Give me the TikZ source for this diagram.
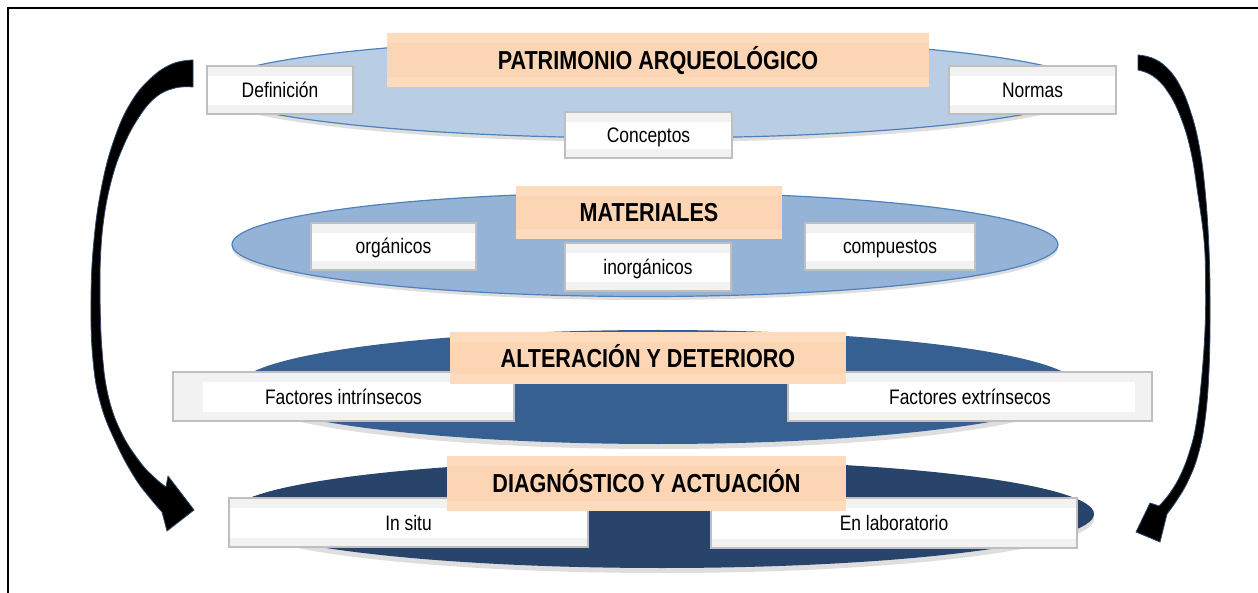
\documentclass[tikz,border=0pt]{standalone}
\usepackage{fontspec}
\setmainfont{Liberation Sans}[FakeStretch=0.83]
\usetikzlibrary{shapes.geometric}
\definecolor{peach}{HTML}{FCD5B4}
\definecolor{peachband}{HTML}{FDDBBC}
\definecolor{lvla}{HTML}{B9CDE5}
\definecolor{lvlb}{HTML}{95B3D7}
\definecolor{lvlc}{HTML}{376092}
\definecolor{lvld}{HTML}{29446A}
\definecolor{edgeblue}{HTML}{4F81BD}
\definecolor{boxgray}{HTML}{F2F2F2}
\definecolor{boxline}{HTML}{BFBFBF}
\begin{document}
\begin{tikzpicture}[x=1pt,y=-1pt,
  lvl/.style={ellipse, inner sep=0pt},
  shadowell/.style={ellipse, inner sep=0pt, fill=black, opacity=0.13, draw=none},
  titlebox/.style={rectangle, inner sep=0pt, fill=peach,
    font=\fontsize{26}{30}\selectfont\bfseries, text height=18.7pt, text depth=0pt,
    path picture={\fill[peachband] (path picture bounding box.north west) rectangle ([yshift=-10pt]path picture bounding box.north east);
                  \fill[peachband] ([yshift=10pt]path picture bounding box.south west) rectangle (path picture bounding box.south east);}},
  lbox/.style={rectangle, inner sep=0pt, fill=boxgray, draw=boxline, line width=1.5pt,
    font=\fontsize{21}{25}\selectfont, text height=15pt, text depth=0pt},
  band/.style 2 args={path picture={\fill[white] ([xshift=#1,yshift=-10pt]path picture bounding box.north west) rectangle ([xshift=-#2,yshift=9pt]path picture bounding box.south east);}},
  arrowfill/.style={fill=black, draw=edgeblue!55!black, line width=0.8pt, line join=round}
]
\useasboundingbox (0,0) rectangle (1258,593);
\fill[white] (0,0) rectangle (1258,593);
\draw[line width=2.5pt] (8,593) -- (8,8) -- (1258,8);

% ---- level 4 ----
\node[shadowell, minimum width=864pt, minimum height=108pt] (e4s) at (662,519) {};
\node[lvl, fill=lvld, minimum width=864pt, minimum height=108pt] (e4) at (662,514) {};
% ---- level 3 ----
\node[shadowell, minimum width=840pt, minimum height=114pt] (e3s) at (658,392) {};
\node[lvl, fill=lvlc, minimum width=840pt, minimum height=114pt] (e3) at (658,387) {};
% ---- level 2 ----
\node[shadowell, minimum width=826pt, minimum height=104pt] (e2s) at (645,248) {};
\node[lvl, fill=lvlb, draw=edgeblue, line width=1.2pt, minimum width=826pt, minimum height=104pt] (e2) at (645,244.5) {};
% ---- level 1 ----
\node[shadowell, minimum width=880pt, minimum height=100pt] (e1s) at (650,92) {};
\node[lvl, fill=lvla, draw=edgeblue, line width=1.2pt, minimum width=880pt, minimum height=100pt] (e1) at (650,88) {};

% ---- label boxes ----
\node[lbox, band={0pt}{0pt}, minimum width=146pt, minimum height=48pt] (def) at (280,90) {Definición};
\node[lbox, band={0pt}{0pt}, minimum width=167pt, minimum height=48pt] (nor) at (1032.5,90) {Normas};
\node[lbox, band={0pt}{0pt}, minimum width=167pt, minimum height=46pt] (con) at (648.5,135) {Conceptos};

\node[lbox, band={0pt}{0pt}, minimum width=165pt, minimum height=47pt] (org) at (393.5,246.5) {orgánicos};
\node[lbox, band={0pt}{0pt}, minimum width=166pt, minimum height=48pt] (inorg) at (648,267) {inorgánicos};
\node[lbox, band={0pt}{0pt}, minimum width=170pt, minimum height=47pt] (comp) at (890,246.5) {compuestos};

\node[lbox, band={30pt}{0pt}, minimum width=341pt, minimum height=49pt] (fint) at (343.5,396.5) {Factores intrínsecos};
\node[lbox, band={0pt}{17pt}, minimum width=364pt, minimum height=49pt] (fext) at (970,396.5) {Factores extrínsecos};

\node[lbox, band={0pt}{0pt}, minimum width=359pt, minimum height=49pt] (situ) at (408.5,522.5) {In situ};
\node[lbox, band={0pt}{0pt}, minimum width=366pt, minimum height=50pt] (lab) at (894,523) {En laboratorio};

% ---- title boxes ----
\node[titlebox, minimum width=542pt, minimum height=54pt] (t1) at (658,60) {PATRIMONIO ARQUEOLÓGICO};
\node[titlebox, minimum width=266pt, minimum height=53pt] (t2) at (649,212.5) {MATERIALES};
\node[titlebox, minimum width=396pt, minimum height=52pt] (t3) at (648,358) {ALTERACIÓN Y DETERIORO};
\node[titlebox, minimum width=399pt, minimum height=55pt] (t4) at (646.5,483.5) {DIAGNÓSTICO Y ACTUACIÓN};

% ---- left curved arrow ----
\path[arrowfill] (193,60) -- plot[smooth, tension=0.7] coordinates {(193,60) (172,64) (150,79) (130,104) (114,140) (102,185) (94,240) (91,300) (93,360) (101,405) (117,445) (135,478) (150,498) (162,512)}
  -- (167,531) -- (194,510) -- (168,476) -- (166,487)
  -- plot[smooth, tension=0.7] coordinates {(166,487) (155,478) (140,462) (121,432) (108,395) (102,350) (100,300) (100,270) (103,225) (111,182) (123,147) (139,117) (156,97) (175,88) (193,87)} -- cycle;

% ---- right curved arrow ----
\path[arrowfill] (1138,55) -- plot[smooth, tension=0.7] coordinates {(1138,55) (1152,58) (1166,67) (1179,84) (1190,110) (1199,145) (1205,190) (1209,250) (1210,310) (1209,370) (1205,420) (1198,455) (1188,481) (1177,500) (1167,514)}
  -- (1160,542) -- (1136,532) -- (1150,503) -- (1159,506)
  -- plot[smooth, tension=0.7] coordinates {(1159,506) (1170,493) (1181,474) (1190,450) (1196,425) (1201,385) (1205,330) (1205.5,280) (1204,240) (1198,195) (1191,152) (1181,118) (1168,92) (1153,76) (1138,70)} -- cycle;
\end{tikzpicture}
\end{document}
